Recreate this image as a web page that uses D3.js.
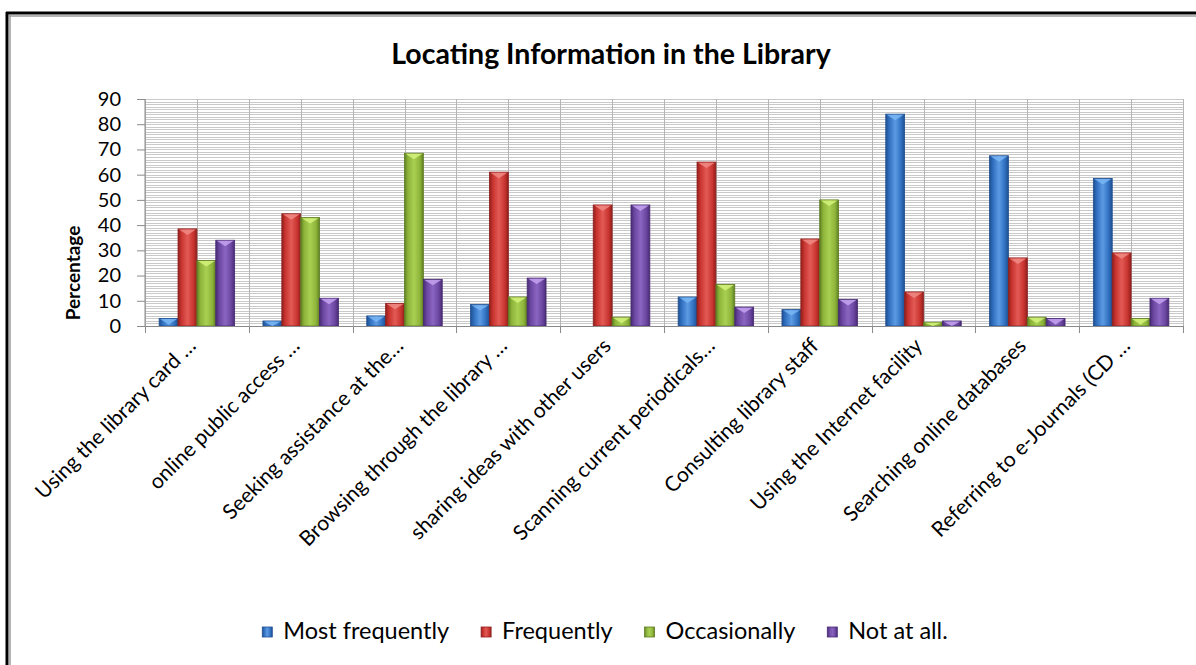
<!DOCTYPE html>
<html>
<head>
<meta charset="utf-8">
<script src="https://cdn.jsdelivr.net/npm/d3@7"></script>
<style>
  body { margin: 0; background: #fff; }
  svg { display: block; }
  text { font-family: Lato, "Open Sans", sans-serif; fill: #000; }
</style>
</head>
<body>
<svg id="chart" width="1196" height="665"></svg>
<script>
// Survey categories (x axis)
const categories = [
  "Using the library card …",
  "online public access …",
  "Seeking assistance at the…",
  "Browsing through the library …",
  "sharing ideas with other users",
  "Scanning current periodicals…",
  "Consulting library staff",
  "Using the Internet facility",
  "Searching online databases",
  "Referring to e-Journals (CD …"
];

// Series names (legend order)
const seriesNames = ["Most frequently", "Frequently", "Occasionally", "Not at all."];

// Percentages per series, one value per category
const mostFrequently = [3, 2, 4, 8.5, 0, 11.5, 6.5, 84, 67.5, 58.5];
const frequently     = [38.5, 44.5, 9, 61, 48, 65, 34.5, 13.5, 27, 29];
const occasionally   = [26, 43, 68.5, 11.5, 3.5, 16.5, 50, 1.5, 3.5, 3];
const notAtAll       = [34, 11, 18.5, 19, 48, 7.5, 10.5, 2, 3, 11];

// Y axis tick labels
const yTicks = [0, 10, 20, 30, 40, 50, 60, 70, 80, 90];

const seriesValues = [mostFrequently, frequently, occasionally, notAtAll];
const seriesColors = [
  { base: "#2f6fbf", light: "#5c9be3", dark: "#1f4f8f", tip: "#7ab6f5" },
  { base: "#c8342f", light: "#e35a55", dark: "#8f1f1c", tip: "#f08a85" },
  { base: "#8db43a", light: "#a9d052", dark: "#5e7d22", tip: "#d3f27a" },
  { base: "#6a46a0", light: "#8a66c2", dark: "#472a72", tip: "#c6a2f0" }
];

const svg = d3.select("#chart");
const defs = svg.append("defs");

// Horizontal gradients give the bevelled look of each series
seriesColors.forEach((c, i) => {
  const g = defs.append("linearGradient")
    .attr("id", "grad" + i).attr("x1", "0").attr("x2", "1").attr("y1", "0").attr("y2", "0");
  g.append("stop").attr("offset", "0%").attr("stop-color", c.dark);
  g.append("stop").attr("offset", "18%").attr("stop-color", c.base);
  g.append("stop").attr("offset", "50%").attr("stop-color", c.light);
  g.append("stop").attr("offset", "82%").attr("stop-color", c.base);
  g.append("stop").attr("offset", "100%").attr("stop-color", c.dark);
});

// Frame around the chart
const frame = svg.append("g");
frame.append("line").attr("x1", 6).attr("x2", 1196).attr("y1", 13).attr("y2", 13)
  .attr("stroke", "#000").attr("stroke-width", 3);
frame.append("line").attr("x1", 9).attr("x2", 1196).attr("y1", 16).attr("y2", 16)
  .attr("stroke", "#9a9a9a").attr("stroke-width", 1.5);
frame.append("line").attr("x1", 7).attr("x2", 7).attr("y1", 12).attr("y2", 665)
  .attr("stroke", "#000").attr("stroke-width", 3);
frame.append("line").attr("x1", 10).attr("x2", 10).attr("y1", 15).attr("y2", 665)
  .attr("stroke", "#9a9a9a").attr("stroke-width", 1.5);

const plot = { left: 145, right: 1183, top: 99, bottom: 326 };

const x = d3.scaleBand().domain(categories).range([plot.left, plot.right]).padding(0);
const bw = x.bandwidth();
const xs = d3.scaleBand().domain(seriesNames).range([0, bw]).paddingInner(0).paddingOuter(0.75);
const y = d3.scaleLinear().domain([0, 90]).range([plot.bottom, plot.top]);

// Minor horizontal gridlines every unit
svg.append("g")
  .attr("transform", `translate(${plot.left},0)`)
  .call(d3.axisLeft(y).tickValues(d3.range(0, 91, 1)).tickSize(-(plot.right - plot.left)).tickFormat(""))
  .call(g => g.select(".domain").remove())
  .call(g => g.selectAll("line").attr("stroke", "#c9c9c9").attr("shape-rendering", "crispEdges"));

// Vertical gridlines at category edges and centres
const vLines = [];
categories.forEach(c => { vLines.push(x(c)); vLines.push(x(c) + bw / 2); });
vLines.push(plot.right);
svg.append("g").selectAll("line").data(vLines).join("line")
  .attr("x1", d => Math.round(d) + 0.5).attr("x2", d => Math.round(d) + 0.5)
  .attr("y1", plot.top).attr("y2", plot.bottom)
  .attr("stroke", "#b5b5b5").attr("stroke-width", 1);

// Bars
const groups = svg.append("g").selectAll("g").data(categories).join("g")
  .attr("transform", d => `translate(${x(d)},0)`);

groups.each(function (cat, ci) {
  const g = d3.select(this);
  seriesNames.forEach((s, si) => {
    const v = seriesValues[si][ci];
    if (v <= 0) return;
    const bx = xs(s), w = xs.bandwidth();
    const top = y(v), h = y(0) - y(v);
    const c = seriesColors[si];
    g.append("rect")
      .attr("x", bx).attr("y", top).attr("width", w).attr("height", h)
      .attr("fill", `url(#grad${si})`)
      .attr("stroke", c.dark).attr("stroke-width", 0.8);
    const tipH = Math.min(6, h);
    g.append("path")
      .attr("d", `M${bx + 1},${top + 0.6} L${bx + w - 1},${top + 0.6} L${bx + w / 2},${top + tipH} Z`)
      .attr("fill", c.tip).attr("opacity", 0.85);
  });
});

// Y axis
const yAxis = svg.append("g")
  .attr("transform", `translate(${plot.left},0)`)
  .call(d3.axisLeft(y).tickValues(yTicks).tickSize(8).tickPadding(16).tickFormat(d3.format("d")));
yAxis.select(".domain").attr("stroke", "#8a8a8a").attr("d", `M0,${plot.top}V${plot.bottom}`);
yAxis.selectAll(".tick line").attr("stroke", "#8a8a8a");
yAxis.selectAll(".tick text").attr("font-size", 20).attr("fill", "#000")
  .attr("font-family", "Lato, sans-serif");

// X axis line and category boundary ticks
const xEdges = categories.map(c => x(c)).concat([plot.right]);
svg.append("line").attr("x1", plot.left - 8).attr("x2", plot.right).attr("y1", plot.bottom + 0.5).attr("y2", plot.bottom + 0.5)
  .attr("stroke", "#8a8a8a");
svg.append("g").selectAll("line").data(xEdges).join("line")
  .attr("x1", d => Math.round(d) + 0.5).attr("x2", d => Math.round(d) + 0.5)
  .attr("y1", plot.bottom).attr("y2", plot.bottom + 7)
  .attr("stroke", "#8a8a8a");

// Rotated category labels
svg.append("g").selectAll("text").data(categories).join("text")
  .attr("transform", d => `translate(${x(d) + bw / 2 - 5},${plot.bottom + 16}) rotate(-45)`)
  .attr("text-anchor", "end")
  .attr("dy", "0.35em")
  .attr("font-size", 21)
  .text(d => d);

// Title
svg.append("text")
  .attr("x", 611).attr("y", 64)
  .attr("text-anchor", "middle")
  .attr("font-size", 28.5).attr("font-weight", "bold")
  .text("Locating Information in the Library");

// Y axis title
svg.append("text")
  .attr("transform", "translate(80,273) rotate(-90)")
  .attr("text-anchor", "middle")
  .attr("font-size", 19).attr("font-weight", "bold")
  .text("Percentage");

// Legend
const legend = svg.append("g");
const items = legend.selectAll("g").data(seriesNames).join("g");
items.append("rect").attr("width", 10).attr("height", 10).attr("y", -12)
  .attr("fill", (d, i) => `url(#grad${i})`)
  .attr("stroke", (d, i) => seriesColors[i].dark).attr("stroke-width", 0.8);
items.append("text").attr("x", 21).attr("y", 0).attr("font-size", 23.5).text(d => d);
let lx = 0;
items.each(function () {
  d3.select(this).attr("transform", `translate(${lx},639)`);
  lx += 21 + this.querySelector("text").getComputedTextLength() + 32;
});
const legendWidth = lx - 32;
legend.attr("transform", `translate(${605 - legendWidth / 2},0)`);
</script>
</body>
</html>
